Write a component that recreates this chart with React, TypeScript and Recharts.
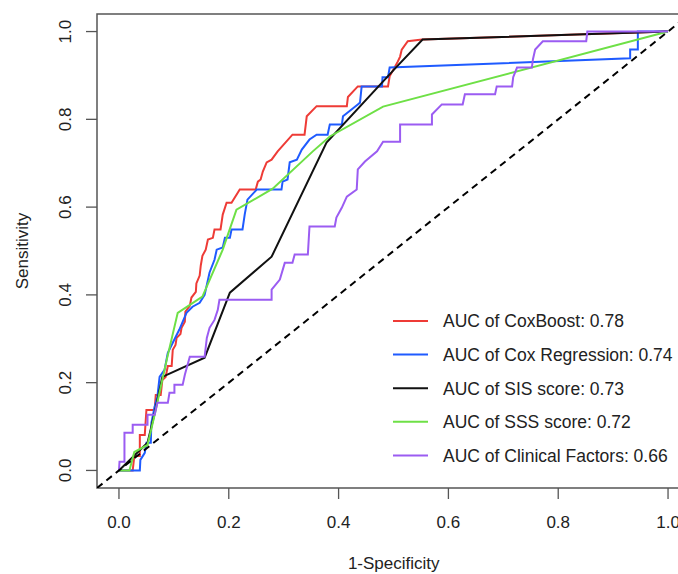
import React from 'react';
import { LineChart, Line, XAxis, YAxis, ReferenceArea, Legend } from 'recharts';

// 1-Specificity (x) and Sensitivity (y) pairs
const coxBoostRoc: [number, number][] = [
  [0, 0], [0.025, 0], [0.028, 0.033], [0.038, 0.033], [0.038, 0.081], [0.047, 0.081], [0.05, 0.138],
  [0.065, 0.138], [0.067, 0.172], [0.076, 0.172], [0.079, 0.206], [0.085, 0.213], [0.089, 0.238],
  [0.096, 0.238], [0.098, 0.275], [0.103, 0.286], [0.105, 0.302], [0.112, 0.311], [0.114, 0.325],
  [0.12, 0.339], [0.121, 0.362], [0.129, 0.375], [0.132, 0.394], [0.14, 0.407], [0.141, 0.426],
  [0.147, 0.444], [0.149, 0.467], [0.152, 0.489], [0.158, 0.503], [0.162, 0.526], [0.171, 0.53],
  [0.174, 0.549], [0.185, 0.549], [0.189, 0.583], [0.196, 0.61], [0.205, 0.61], [0.22, 0.64],
  [0.249, 0.64], [0.253, 0.658], [0.258, 0.663], [0.262, 0.681], [0.269, 0.702], [0.278, 0.708],
  [0.289, 0.727], [0.316, 0.765], [0.338, 0.765], [0.342, 0.807], [0.36, 0.83], [0.415, 0.83],
  [0.417, 0.851], [0.435, 0.875], [0.49, 0.875], [0.493, 0.898], [0.508, 0.932], [0.512, 0.943],
  [0.515, 0.959], [0.526, 0.978], [0.552, 0.982], [1, 1],
];

const coxRegressionRoc: [number, number][] = [
  [0, 0], [0.038, 0], [0.039, 0.024], [0.047, 0.04], [0.05, 0.063], [0.058, 0.063], [0.059, 0.108],
  [0.065, 0.145], [0.07, 0.168], [0.074, 0.213], [0.083, 0.229], [0.089, 0.268], [0.098, 0.291],
  [0.11, 0.321], [0.123, 0.359], [0.134, 0.373], [0.147, 0.382], [0.156, 0.4], [0.165, 0.451],
  [0.174, 0.48], [0.178, 0.503], [0.189, 0.508], [0.193, 0.53], [0.202, 0.53], [0.205, 0.549],
  [0.225, 0.549], [0.229, 0.583], [0.234, 0.617], [0.251, 0.64], [0.296, 0.64], [0.298, 0.658],
  [0.307, 0.663], [0.311, 0.702], [0.324, 0.708], [0.333, 0.731], [0.347, 0.754], [0.36, 0.765],
  [0.38, 0.765], [0.384, 0.788], [0.406, 0.788], [0.408, 0.807], [0.435, 0.834], [0.439, 0.838],
  [0.442, 0.875], [0.479, 0.875], [0.48, 0.896], [0.49, 0.896], [0.493, 0.918], [0.931, 0.939],
  [0.931, 0.959], [0.945, 0.959], [0.945, 1], [1, 1],
];

const sisScoreRoc: [number, number][] = [
  [0, 0], [0.052, 0.063], [0.065, 0.131], [0.079, 0.213], [0.156, 0.257], [0.202, 0.405],
  [0.278, 0.487], [0.378, 0.747], [0.506, 0.92], [0.553, 0.982], [1, 1],
];

const sssScoreRoc: [number, number][] = [
  [0, 0], [0.019, 0], [0.028, 0.042], [0.052, 0.058], [0.065, 0.127], [0.087, 0.252], [0.107, 0.359],
  [0.152, 0.396], [0.189, 0.503], [0.214, 0.594], [0.28, 0.642], [0.353, 0.727], [0.384, 0.761],
  [0.481, 0.829], [1, 1],
];

const clinicalRoc: [number, number][] = [
  [0, 0], [0.001, 0.02], [0.01, 0.02], [0.01, 0.086], [0.025, 0.086], [0.025, 0.104], [0.052, 0.104],
  [0.052, 0.127], [0.065, 0.127], [0.07, 0.154], [0.089, 0.154], [0.092, 0.177], [0.101, 0.177],
  [0.101, 0.195], [0.116, 0.195], [0.12, 0.218], [0.129, 0.259], [0.156, 0.259], [0.16, 0.302],
  [0.165, 0.325], [0.174, 0.343], [0.18, 0.366], [0.183, 0.389], [0.278, 0.389], [0.278, 0.412],
  [0.293, 0.435], [0.302, 0.473], [0.316, 0.473], [0.32, 0.492], [0.344, 0.492], [0.347, 0.556],
  [0.393, 0.556], [0.396, 0.576], [0.406, 0.599], [0.415, 0.624], [0.433, 0.64], [0.435, 0.686],
  [0.448, 0.704], [0.47, 0.727], [0.481, 0.749], [0.512, 0.749], [0.512, 0.788], [0.57, 0.788],
  [0.57, 0.811], [0.588, 0.834], [0.626, 0.834], [0.63, 0.857], [0.685, 0.857], [0.688, 0.875],
  [0.716, 0.875], [0.718, 0.896], [0.725, 0.918], [0.752, 0.918], [0.754, 0.937], [0.758, 0.959],
  [0.772, 0.978], [0.851, 0.978], [0.853, 1], [1, 1],
];

const referenceDiagonal: [number, number][] = [[-0.04, -0.04], [1.04, 1.04]];

const seriesNames = [
  'AUC of CoxBoost: 0.78',
  'AUC of Cox Regression: 0.74',
  'AUC of SIS score: 0.73',
  'AUC of SSS score: 0.72',
  'AUC of Clinical Factors: 0.66',
];
const axisTicks = [0, 0.2, 0.4, 0.6, 0.8, 1.0];
const axisDomain: [number, number] = [-0.04, 1.04];

const seriesData = [coxBoostRoc, coxRegressionRoc, sisScoreRoc, sssScoreRoc, clinicalRoc];
const seriesColors = ['#EE3B36', '#1F5BFF', '#111111', '#6EE046', '#9B5CF2'];

const FONT = '"Liberation Sans", Arial, Helvetica, sans-serif';
const TEXT_COLOR = '#222';
const FRAME_COLOR = '#555';

const toPoints = (arr: [number, number][]) => arr.map(([x, y]) => ({ x, y }));

const XTick = (props: any) => {
  const { x, payload } = props;
  return (
    <text x={x} y={527.5} textAnchor="middle" fontFamily={FONT} fontSize={17} fill={TEXT_COLOR}>
      {Number(payload.value).toFixed(1)}
    </text>
  );
};

const YTick = (props: any) => {
  const { y, payload } = props;
  const bx = 71;
  return (
    <text x={bx} y={y} transform={`rotate(-90, ${bx}, ${y})`} textAnchor="middle" fontFamily={FONT} fontSize={17} fill={TEXT_COLOR}>
      {Number(payload.value).toFixed(1)}
    </text>
  );
};

const LegendContent = () => (
  <svg width={300} height={175}>
    {seriesNames.map((name, i) => {
      const cy = 21 + i * 33.6;
      return (
        <g key={name}>
          <line x1={13} x2={48} y1={cy} y2={cy} stroke={seriesColors[i]} strokeWidth={2} />
          <text x={63} y={cy + 6.3} fontFamily={FONT} fontSize={17.5} fill={TEXT_COLOR}>
            {name}
          </text>
        </g>
      );
    })}
  </svg>
);

export default function App() {
  return (
    <div style={{ position: 'absolute', left: 0, top: 0, width: 678, height: 574, overflow: 'hidden', background: '#fff' }}>
      <LineChart width={700} height={574} margin={{ top: 14, right: 10, bottom: 0, left: 0 }}>
        <XAxis
          type="number"
          dataKey="x"
          domain={axisDomain}
          ticks={axisTicks}
          allowDataOverflow
          axisLine={false}
          tickLine={{ stroke: FRAME_COLOR, strokeWidth: 1.3 }}
          tickSize={11}
          height={86}
          tick={<XTick />}
          interval={0}
          label={{
            content: () => (
              <text x={393.7} y={568.5} textAnchor="middle" fontFamily={FONT} fontSize={17} fill={TEXT_COLOR}>
                1-Specificity
              </text>
            ),
          }}
        />
        <YAxis
          type="number"
          dataKey="y"
          domain={axisDomain}
          ticks={axisTicks}
          allowDataOverflow
          axisLine={false}
          tickLine={{ stroke: FRAME_COLOR, strokeWidth: 1.3 }}
          tickSize={11}
          width={97}
          tick={<YTick />}
          interval={0}
          label={{
            content: () => (
              <text x={28} y={251} transform="rotate(-90, 28, 251)" textAnchor="middle" fontFamily={FONT} fontSize={17} fill={TEXT_COLOR}>
                Sensitivity
              </text>
            ),
          }}
        />
        <ReferenceArea x1={axisDomain[0]} x2={axisDomain[1]} y1={axisDomain[0]} y2={axisDomain[1]} fill="none" fillOpacity={0} stroke={FRAME_COLOR} strokeWidth={1.5} ifOverflow="visible" />
        {seriesData.map((d, i) => (
          <Line
            key={seriesNames[i]}
            data={toPoints(d)}
            dataKey="y"
            name={seriesNames[i]}
            type="linear"
            stroke={seriesColors[i]}
            strokeWidth={2}
            dot={false}
            activeDot={false}
            isAnimationActive={false}
          />
        ))}
        <Line
          data={toPoints(referenceDiagonal)}
          dataKey="y"
          name="reference"
          type="linear"
          stroke="#000"
          strokeWidth={2}
          strokeDasharray="7 5"
          dot={false}
          activeDot={false}
          legendType="none"
          isAnimationActive={false}
        />
        <Legend
          layout="horizontal"
          verticalAlign="middle"
          align="center"
          content={<LegendContent />}
          wrapperStyle={{ position: 'absolute', left: 380, top: 300, width: 300, height: 175 }}
        />
      </LineChart>
    </div>
  );
}
